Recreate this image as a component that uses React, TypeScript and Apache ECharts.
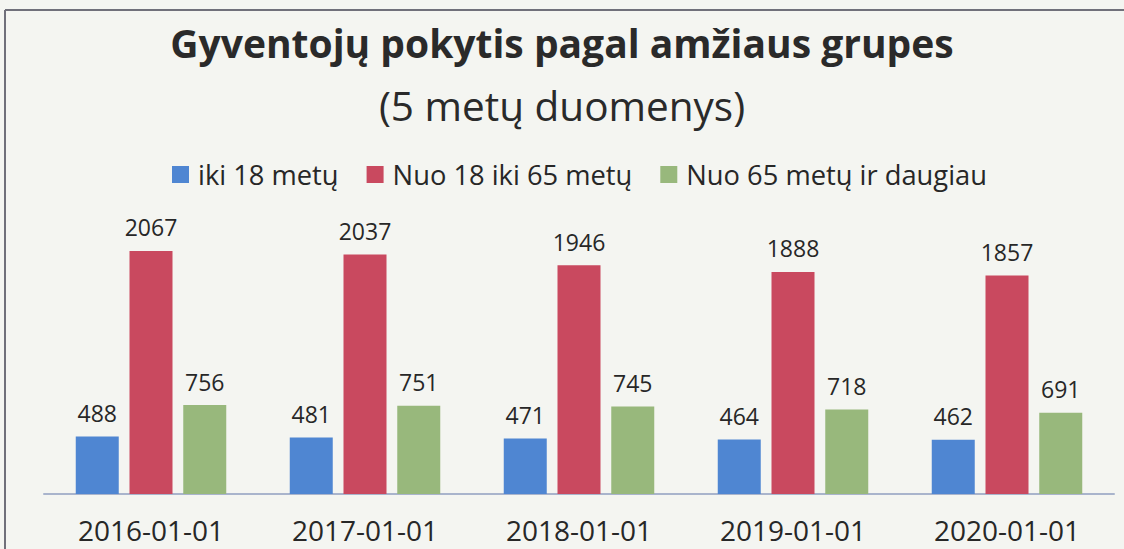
import React, { useEffect, useRef } from "react";
import * as echarts from "echarts";

const categories = ["2016-01-01", "2017-01-01", "2018-01-01", "2019-01-01", "2020-01-01"];
const seriesNames = ["iki 18 metų", "Nuo 18 iki 65 metų", "Nuo 65 metų ir daugiau"];
const under18 = [488, 481, 471, 464, 462];
const from18to65 = [2067, 2037, 1946, 1888, 1857];
const over65 = [756, 751, 745, 718, 691];
const colors = ["#4f86d2", "#c9495f", "#98b87c"];

const FONT = "'Open Sans', sans-serif";
const TEXT = "#272727";

export default function App() {
  const ref = useRef<HTMLDivElement>(null);
  useEffect(() => {
    if (!ref.current) return;
    const chart = echarts.init(ref.current, null, { renderer: "svg" });
    const values = [under18, from18to65, over65];
    chart.setOption({
      animation: false,
      backgroundColor: "#f4f5f1",
      textStyle: { fontFamily: FONT },
      title: [
        {
          text: "Gyventojų pokytis pagal amžiaus grupes",
          left: "center",
          top: 18,
          textStyle: { fontFamily: FONT, fontWeight: "bold", fontSize: 39, color: "#2a2a2a" },
        },
        {
          text: "(5 metų duomenys)",
          left: "center",
          top: 80,
          textStyle: { fontFamily: FONT, fontWeight: "normal", fontSize: 40.5, color: "#2a2a2a" },
        },
      ],
      legend: {
        top: 156,
        left: 167,
        itemWidth: 17,
        itemHeight: 17,
        itemGap: 28,
        icon: "rect",
        textStyle: { fontFamily: FONT, fontSize: 27.3, color: TEXT, padding: [0, 0, 0, 4] },
        data: seriesNames,
      },
      grid: { left: 44, right: 10, top: 200, bottom: 55, containLabel: false },
      xAxis: {
        type: "category",
        data: categories,
        axisLine: { lineStyle: { color: "#a9b4cc", width: 2 } },
        axisTick: { show: false },
        axisLabel: { fontFamily: FONT, fontSize: 28, lineHeight: 28, color: TEXT, margin: 22 },
      },
      yAxis: {
        type: "value",
        min: 0,
        max: 2500,
        show: false,
        splitLine: { show: false },
      },
      graphic: [
        { type: "line", shape: { x1: 5, y1: 10, x2: 1124, y2: 10 }, style: { stroke: "#70707a", lineWidth: 2 }, z: 100 },
        { type: "line", shape: { x1: 5, y1: 10, x2: 5, y2: 549 }, style: { stroke: "#70707a", lineWidth: 2 }, z: 100 },
      ],
      series: seriesNames.map((name, i) => ({
        name,
        type: "bar",
        data: values[i],
        barWidth: 43,
        barGap: "25%",
        itemStyle: { color: colors[i] },
        label: {
          show: true,
          position: "top",
          distance: 12,
          fontFamily: FONT,
          fontSize: 23,
          color: TEXT,
        },
      })),
    });
    return () => chart.dispose();
  }, []);
  return (
    <div
      ref={ref}
      style={{ position: "absolute", left: 0, top: 0, width: 1124, height: 549 }}
    />
  );
}
